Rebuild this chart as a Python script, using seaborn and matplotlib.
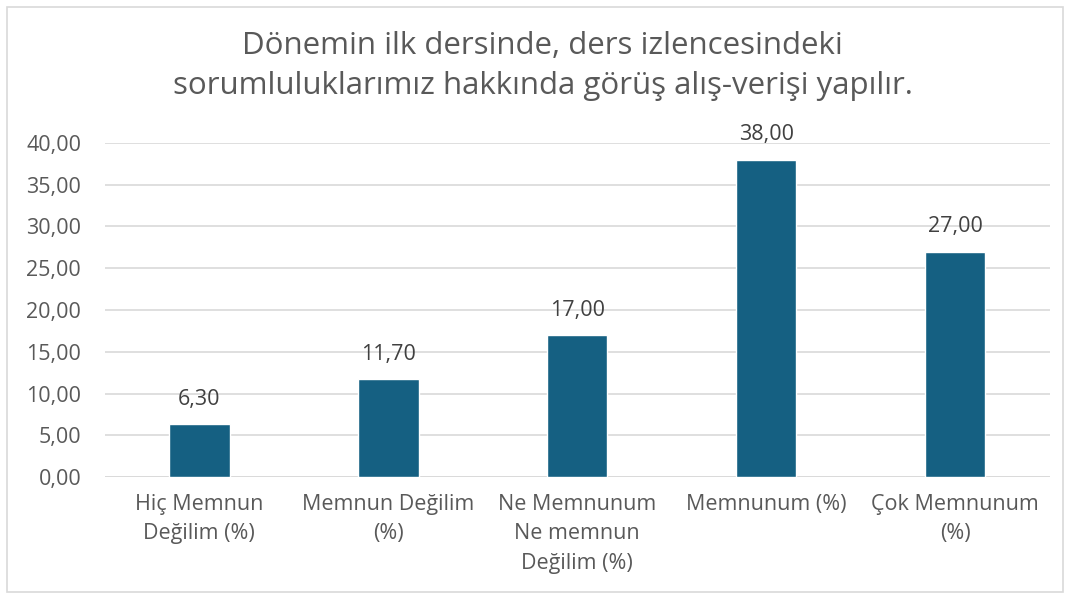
import pandas as pd
import matplotlib.pyplot as plt
import seaborn as sns
from matplotlib.patches import Rectangle

categories = ['Hiç Memnun\nDeğilim (%)', 'Memnun Değilim\n(%)', 'Ne Memnunum\nNe memnun\nDeğilim (%)',
              'Memnunum (%)', 'Çok Memnunum\n(%)']
values = [6.30, 11.70, 17.00, 38.00, 27.00]
yticks = [0, 5, 10, 15, 20, 25, 30, 35, 40]
title = 'Dönemin ilk dersinde, ders izlencesindeki\nsorumluluklarımız hakkında görüş alış-verişi yapılır.'

data = pd.DataFrame({'kategori': categories, 'deger': values})

sns.set_style('white')
plt.rcParams['font.family'] = ['Open Sans', 'DejaVu Sans']
text_color = '#595959'

fig = plt.figure(figsize=(10.7, 5.98), dpi=100)
ax = fig.add_axes([0.098, 0.2023, 0.883, 0.5586])

sns.barplot(x='kategori', y='deger', data=data, color='#156082', width=0.32,
            saturation=1, ax=ax, zorder=3)

ax.set_ylim(0, 40)
ax.set_yticks(yticks)
ax.set_yticklabels([f'{t:.2f}'.replace('.', ',') for t in yticks], fontsize=15.5, color=text_color)
ax.set_xticks(range(len(categories)))
ax.set_xticklabels(categories, fontsize=15.5, color=text_color, linespacing=1.55)
ax.tick_params(axis='y', length=0, pad=17)
ax.tick_params(axis='x', length=0, pad=12)
ax.set_xlabel('')
ax.set_ylabel('')
ax.yaxis.grid(True, color='#d9d9d9', linewidth=1.2, zorder=0)
for s in ax.spines.values():
    s.set_visible(False)
ax.axhline(0, color='#d9d9d9', linewidth=1.2, zorder=1)

for i, v in enumerate(values):
    ax.text(i, v + 1.7, f'{v:.2f}'.replace('.', ','), ha='center', va='bottom',
            fontsize=15.5, color='#404040')

fig.text(0.507, 0.948, title, ha='center', va='top', fontsize=22.5, color=text_color,
         linespacing=1.45)

fig.patches.append(Rectangle((0.007, 0.01), 0.986, 0.978, transform=fig.transFigure,
                             fill=False, edgecolor='#d9d9d9', linewidth=1.2))

plt.savefig('out.png', dpi=100)
